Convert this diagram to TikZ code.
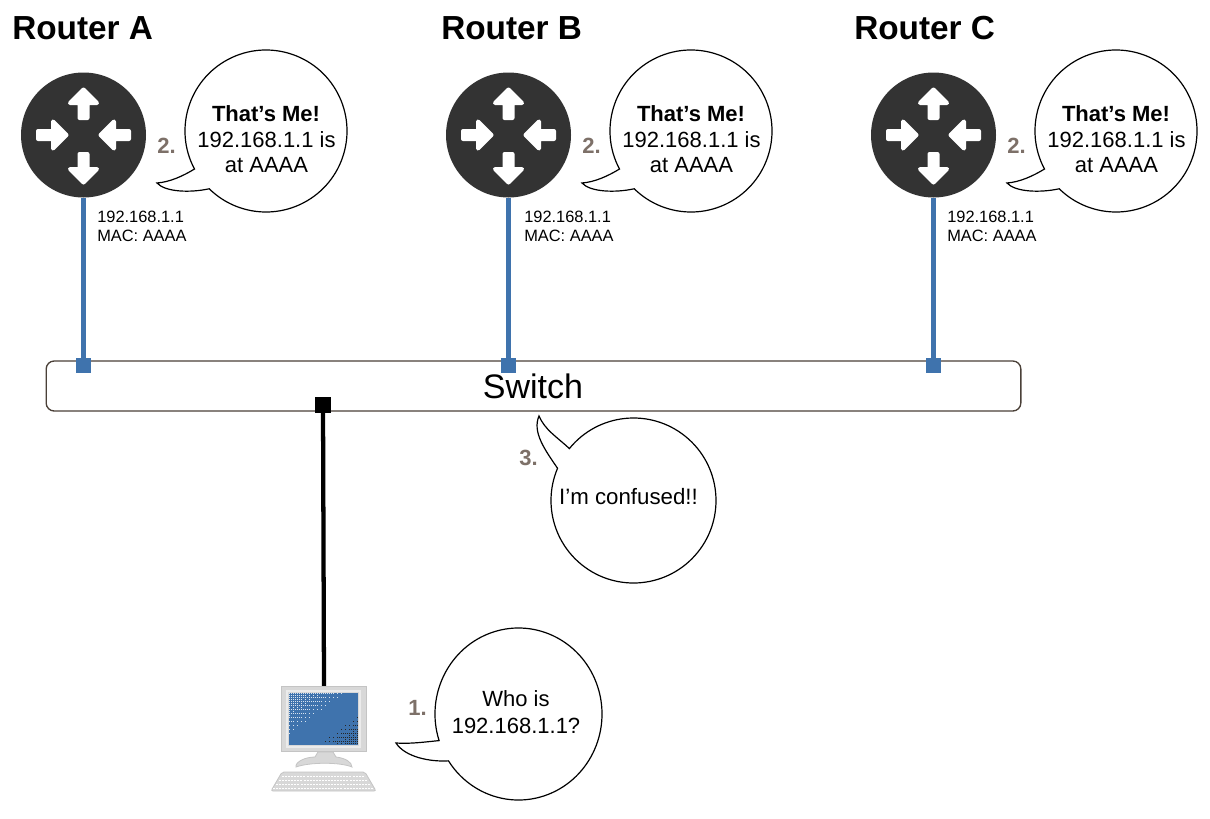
\documentclass[tikz,border=0pt]{standalone}
\usepackage{fontspec}
\setmainfont{Liberation Sans}
\definecolor{netblue}{HTML}{3F73AD}
\definecolor{routerdark}{HTML}{333333}
\definecolor{stepgray}{HTML}{7D7068}
\definecolor{switchline}{HTML}{4A4038}
\definecolor{pcgray}{HTML}{D8D8D8}
\definecolor{pcedge}{HTML}{C4C4C4}
\tikzset{
  rarrow/.pic={\fill[white,draw=white,line width=3pt,line join=round]
     (0,-14.5) -- (13.5,-1) -- (4,-1) -- (4,14) -- (-4,14) -- (-4,-1) -- (-13.5,-1) -- cycle;},
  routernode/.style={circle,fill=routerdark,minimum size=93.75pt,inner sep=0pt},
  portblue/.style={rectangle,fill=netblue,minimum size=11.5pt,inner sep=0pt},
  portblack/.style={rectangle,fill=black,minimum size=11.5pt,inner sep=0pt},
  uplink/.style={line width=3.4pt,netblue},
  pclink/.style={line width=3.2pt,black},
  bubble/.style={draw=black,fill=white,line width=0.9pt,line join=miter},
  bigtitle/.style={font=\fontsize{25}{30}\selectfont\bfseries,anchor=west,inner sep=0pt},
  bubbletext/.style={font=\fontsize{16.5}{19.5}\selectfont,align=center,inner sep=0pt},
  smalltext/.style={font=\fontsize{12.3}{14.3}\selectfont,align=left,anchor=west,inner sep=0pt},
  stepnum/.style={font=\fontsize{16.5}{18}\selectfont\bfseries,text=stepgray,anchor=west,inner sep=0pt},
}
\begin{document}
\begin{tikzpicture}[x=0.75pt,y=-0.75pt]
\fill[white] (0,0) rectangle (1210,818);
\useasboundingbox (0,0) rectangle (1210,818);

% switch
\node[draw=switchline,fill=white,line width=1pt,rounded corners=6pt,minimum width=731pt,minimum height=37.5pt,inner sep=0pt] (switch) at (533.5,386) {};
\node[font=\fontsize{25.5}{30}\selectfont,inner sep=0pt] (switchlabel) at (533,386) {Switch};

% routers
\foreach \nm/\dx/\lx in {A/0/97,B/425/524,C/850/947}{
  \begin{scope}[shift={(\dx,0)}]
    \node[portblue] (port\nm) at (83.5,365.5) {};
    \node[routernode] (router\nm) at (83.5,135) {};
    \pic at (83.5,104) {rarrow};
    \pic[rotate=180] at (83.5,168) {rarrow};
    \pic[rotate=-90] at (52,135) {rarrow};
    \pic[rotate=90] at (115,135) {rarrow};
    \draw[bubble] (266,131) ++(152:81) arc[start angle=152,end angle=494.5,radius=81]
       .. controls (190,193) and (165,192) .. (157,183)
       .. controls (170,182) and (183,176) .. cycle;
    \node[bubbletext,font=\fontsize{16.5}{19.5}\selectfont\bfseries] (bubtitle\nm) at (266,114) {That’s Me!};
    \node[bubbletext] (bubtext\nm) at (266.5,152) {192.168.1.1 is\\[-0.3pt]at AAAA};
    \node[stepnum] (step\nm) at (157,146) {2.};
  \end{scope}
  \draw[uplink] (router\nm) -- (port\nm);
  \node[smalltext] (addr\nm) at (\lx,226) {192.168.1.1\\MAC: AAAA};
}
\node[bigtitle] (titleA) at (12,28) {Router A};
\node[bigtitle] (titleB) at (441,28) {Router B};
\node[bigtitle] (titleC) at (854,28) {Router C};

% switch bubble
\draw[bubble] (633.5,500.5) ++(219:82.5) arc[start angle=219,end angle=563,radius=82.5]
   .. controls (545,450) and (532,432) .. (539,416)
   .. controls (545,430) and (557,437) .. cycle;
\node[bubbletext,font=\fontsize{16.7}{19.5}\selectfont] (confused) at (628.5,497) {I’m confused!!};
\node[stepnum] (stepthree) at (519,458) {3.};

% computer
\node[portblack] (portpc) at (323,405) {};
\node[rectangle,fill=pcgray,draw=pcedge,line width=0.8pt,minimum width=64pt,minimum height=49pt,inner sep=0pt] (monitor) at (324,719) {};
\draw[pclink] (portpc) -- (monitor.north);
\draw[white!92!black,line width=1.2pt] (287,691) rectangle (360,747);
\fill[netblue] (289,693) rectangle (358,745);
\foreach \i in {0,...,34}{
  \foreach \j in {0,...,25}{
    \pgfmathsetmacro{\u}{\i/34+\j/25}
    \pgfmathtruncatemacro{\b}{mod(\i,2)+2*mod(\j,2)}
    \pgfmathtruncatemacro{\lite}{(\u<0.8-0.17*\b) ? 1 : 0}
    \pgfmathtruncatemacro{\dark}{(\u>1.46+0.12*\b) ? 1 : 0}
    \ifnum\lite=1 \fill[white!80!netblue] (289+2*\i,693+2*\j) rectangle +(1.1,1.1);\fi
    \ifnum\dark=1 \fill[black!85] (289+2*\i,693+2*\j) rectangle +(1.1,1.1);\fi
  }
}
\fill[pcgray,draw=pcedge,line width=0.6pt] (318,752) -- (333,752) -- (336,757)
   .. controls (345,758) and (352,762) .. (352,767)
   .. controls (340,762) and (310,762) .. (296,767)
   .. controls (295,762) and (305,757) .. (315,757) -- cycle;
\fill[pcgray,draw=pcedge,line width=0.6pt,rounded corners=1.5pt] (282,772) -- (365,772) -- (376,791) -- (271,791) -- cycle;
\foreach \yy/\xa/\xb in {776/282/364,780/279/367,784/276/370,788/273/373}{
  \draw[white,line width=0.7pt,dash pattern=on 1.5pt off 0.8pt] (\xa,\yy) -- (\xb,\yy);
}

% pc bubble
\draw[bubble] (518.5,714) ++(162:83.5 and 86) arc[start angle=162,end angle=507,x radius=83.5,y radius=86]
   .. controls (430,762) and (405,757) .. (396,743)
   .. controls (410,744) and (425,742) .. cycle;
\node[bubbletext] (whois) at (516,712) {Who is\\[1pt]192.168.1.1?};
\node[stepnum] (stepone) at (408,708) {1.};
\end{tikzpicture}
\end{document}
